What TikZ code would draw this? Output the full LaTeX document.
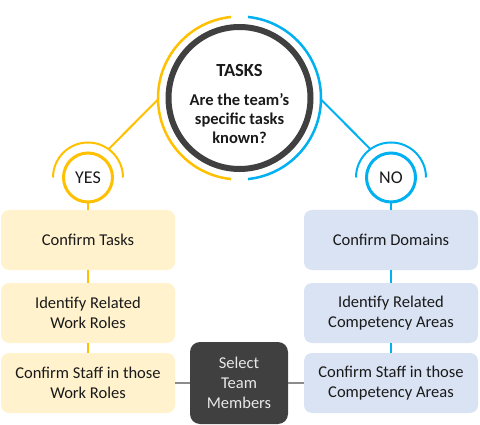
\documentclass[tikz,border=0pt]{standalone}
\usepackage{fontspec}
\setmainfont{Carlito}
\usetikzlibrary{positioning}
\definecolor{ringgold}{HTML}{FFC000}
\definecolor{ringblue}{HTML}{00B0F0}
\definecolor{darkring}{HTML}{404040}
\definecolor{goldfill}{HTML}{FFF2CC}
\definecolor{bluefill}{HTML}{DAE3F3}
\definecolor{linkgray}{HTML}{8C8C8C}
\definecolor{txt}{HTML}{1A1A1A}
\definecolor{seltxt}{HTML}{E8E8E8}
\begin{document}
\begin{tikzpicture}[x=1pt,y=1pt,
    every node/.style={text=txt, outer sep=0pt},
    ring/.style={circle, inner sep=0pt, minimum size=#1},
    stepbox/.style={rounded corners=8pt, minimum width=174pt, minimum height=60pt,
      align=center, font=\fontsize{16.5}{20}\selectfont},
    goldbox/.style={stepbox, fill=goldfill},
    bluebox/.style={stepbox, fill=bluefill},
    goldlink/.style={draw=ringgold, line width=2pt},
    bluelink/.style={draw=ringblue, line width=2pt},
    graylink/.style={draw=linkgray, line width=2.5pt}]
  \useasboundingbox (0,0) rectangle (480,424);
  \draw
    (239.5,326) node[ring=142pt, draw=darkring, line width=6pt] (task) {}
    (88,246.5) node[ring=49pt, draw=ringgold, line width=3pt,
      font=\fontsize{18}{20}\selectfont] (yes) {YES}
    (391,246.5) node[ring=49pt, draw=ringblue, line width=3pt,
      font=\fontsize{18}{20}\selectfont] (no) {NO};
  \node[align=center, inner sep=0pt, font=\bfseries\fontsize{16.5}{19}\selectfont]
    (taskq) at ([yshift=-6pt]task.center)
    {{\fontsize{18.5}{19}\selectfont TASKS}\\[9.5pt]Are the team’s\\specific tasks\\known?};
  \node[ring=163pt] (taskring) at (task.center) {};
  \node[ring=70pt] (yesring) at (yes.center) {};
  \node[ring=70pt] (noring) at (no.center) {};
  % steps
  \node[goldbox] (ct) at (88,184) {Confirm Tasks};
  \node[goldbox, below=13pt of ct] (irw) {Identify Related\\Work Roles};
  \node[goldbox, below=10pt of irw] (csw) {Confirm Staff in those\\Work Roles};
  \node[bluebox] (cd) at (391,184) {Confirm Domains};
  \node[bluebox, below=13pt of cd] (ica) {Identify Related\\Competency Areas};
  \node[bluebox, below=10pt of ica] (csa) {Confirm Staff in those\\Competency Areas};
  \node[stepbox, fill=darkring, text=seltxt, minimum width=98pt, minimum height=82pt,
    rounded corners=10pt, right=15pt of csw] (sel) {Select\\Team\\Members};
  % rings and links
  \draw[ringgold, line width=2.5pt] (taskring.96) arc[start angle=96, end angle=264, radius=81.5];
  \draw[ringblue, line width=2.5pt] (taskring.84) arc[start angle=84, end angle=-84, radius=81.5];
  \draw[ringgold, line width=2pt] (yesring.0) arc[start angle=0, end angle=180, radius=35];
  \draw[ringblue, line width=2pt] (noring.0) arc[start angle=0, end angle=180, radius=35];
  \begin{scope}
    \draw[goldlink] (taskring.181) to (yesring.54);
    \draw[bluelink] (taskring.-1) to (noring.126);
    \draw[goldlink] (yes) to (ct);
    \draw[goldlink] (ct) to (irw);
    \draw[goldlink] (irw) to (csw);
    \draw[bluelink] (no) to (cd);
    \draw[bluelink] (cd) to (ica);
    \draw[bluelink] (ica) to (csa);
    \draw[graylink] (csw) to (sel);
    \draw[graylink] (sel) to (csa);
  \end{scope}
\end{tikzpicture}
\end{document}
